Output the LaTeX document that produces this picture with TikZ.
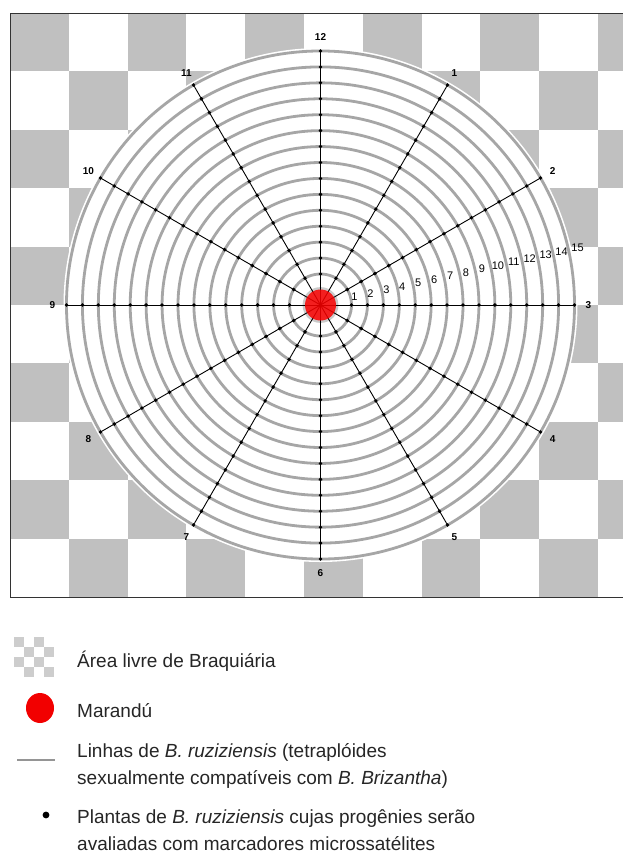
\documentclass[tikz,border=0pt]{standalone}
\usepackage{fontspec}
\setmainfont{Liberation Sans}
\definecolor{checkgray}{HTML}{C0C0C0}
\definecolor{ringgray}{HTML}{A6A6A6}
\definecolor{icongray}{HTML}{CDCDCD}
\definecolor{framegray}{HTML}{333333}
\definecolor{marred}{HTML}{F20000}
\tikzset{
  ring/.style={draw=ringgray, line width=2.8pt},
  rayline/.style={draw=black, line width=0.9pt},
  plantdot/.style={fill=black},
  raylab/.style={font=\fontsize{10}{12}\selectfont\bfseries, inner sep=0pt},
  ringlab/.style={font=\fontsize{11}{12}\selectfont, inner sep=0pt},
  legtext/.style={font=\fontsize{19}{27}\selectfont, anchor=base west, inner sep=0pt, text=black!85},
  framestyle/.style={draw=framegray, line width=1pt}
}
\begin{document}
\begin{tikzpicture}[x=1pt,y=-1pt]
\useasboundingbox (0,0) rectangle (623,855);
\fill[white] (0,0) rectangle (623,855);
% checkerboard
\begin{scope}
\clip (10,13) rectangle (623,597);
\foreach \i in {0,...,10}{
  \foreach \j in {0,...,9}{
    \pgfmathtruncatemacro\parity{mod(\i+\j,2)}
    \ifnum\parity=0
      \fill[checkgray] ({10+58.8*\i},{13+58.4*\j}) rectangle +(58.8,58.4);
    \fi
  }
}
\end{scope}
\draw[framestyle] (623,13) -- (10,13) -- (10,597) -- (623,597);
% field
\coordinate (c) at (320.5,305);
\fill[white] (c) circle (257pt);
\draw[ring, draw=ringgray!60] (c) circle (16.5pt);
\foreach \k in {1,...,15}{
  \pgfmathsetmacro\rr{31+15.93*(\k-1)}
  \draw[ring] (c) circle (\rr pt);
}
\begin{scope}[shift={(320.5,305)}]
\foreach \h in {1,...,12}{
  \pgfmathsetmacro\ang{30*\h-90}
  \coordinate (e\h) at (\ang:254);
  \draw[rayline] (c) -- (e\h);
  \foreach \k in {1,...,15}{
    \pgfmathsetmacro\rr{31+15.93*(\k-1)}
    \fill[plantdot] (\ang:\rr) circle (1.9pt);
  }
  \node[raylab] (L\h) at (\ang:268) {\h};
}
\fill[marred, fill opacity=0.88] (0,0) circle (15.5pt);
\foreach \k in {1,...,15}{
  \pgfmathsetmacro\rx{31+15.93*(\k-1)+3}
  \pgfmathsetmacro\ry{-8-3.5*(\k-1)}
  \node[ringlab] (n\k) at (\rx,\ry) {\k};
}
\end{scope}
% legend
\foreach \i in {0,...,3}{
  \foreach \j in {0,...,3}{
    \pgfmathtruncatemacro\parity{mod(\i+\j,2)}
    \ifnum\parity=0
      \fill[icongray] ({14+10*\i},{637+10*\j}) rectangle +(10,10);
    \fi
  }
}
\node[legtext] (t1) at (77,667) {Área livre de Braquiária};
\fill[marred] (40,708) ellipse (14pt and 15pt);
\node[legtext] (t2) at (77,717) {Marandú};
\draw[draw=ringgray!90!black, line width=2.5pt] (17,760) -- (55,760);
\node[legtext] (t3a) at (77,757) {Linhas de \textit{B. ruziziensis} (tetraplóides};
\node[legtext] (t3b) at (77,784) {sexualmente compatíveis com \textit{B. Brizantha})};
\fill[black] (46,815) circle (3.4pt);
\node[legtext] (t4a) at (77,823) {Plantas de \textit{B. ruziziensis} cujas progênies serão};
\node[legtext] (t4b) at (77,850) {avaliadas com marcadores microssatélites};
\end{tikzpicture}
\end{document}
